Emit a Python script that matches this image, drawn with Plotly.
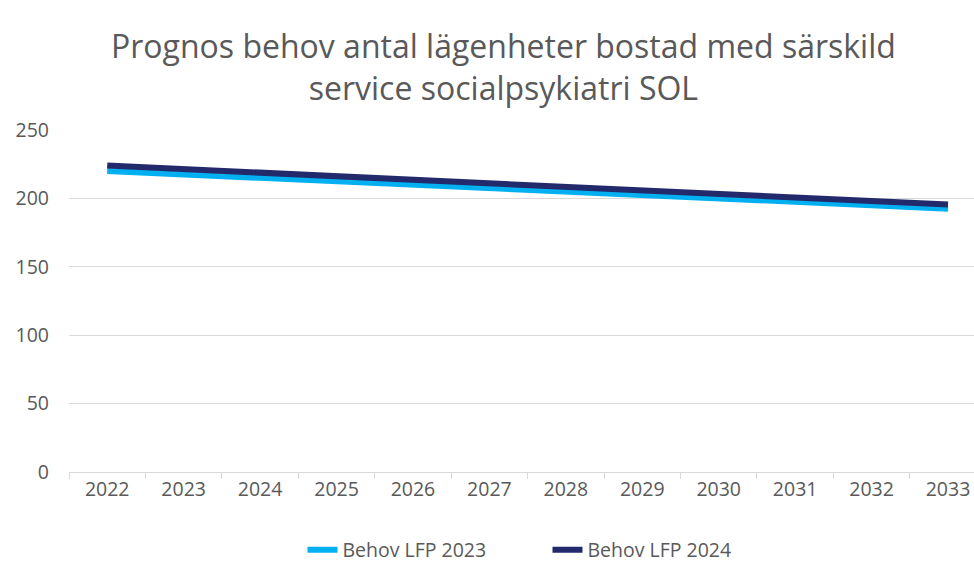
import plotly.graph_objects as go

years = ["2022", "2023", "2024", "2025", "2026", "2027", "2028", "2029", "2030", "2031", "2032", "2033"]
behov_2023 = [220, 217.5, 215, 212, 210, 207.5, 205, 203, 200.5, 197.5, 194.5, 192.5]
behov_2024 = [224, 221.5, 219, 216.5, 213.5, 211, 208, 205.5, 203, 200.5, 198, 195.5]
y_ticks = [0, 50, 100, 150, 200, 250]

FONT = "Open Sans"
TXT = "#595959"

fig = go.Figure()
fig.add_trace(go.Scatter(x=years, y=behov_2023, mode="lines", name="Behov LFP 2023",
                         line=dict(color="#00B0F0", width=6)))
fig.add_trace(go.Scatter(x=years, y=behov_2024, mode="lines", name="Behov LFP 2024",
                         line=dict(color="#222A6B", width=6)))

W, H = 974, 562

fig.update_layout(
    width=W, height=H,
    paper_bgcolor="white", plot_bgcolor="white",
    margin=dict(l=69, r=0, t=130, b=90, autoexpand=False),
    font=dict(family=FONT, color=TXT, size=19.5),
    title=dict(text="Prognos behov antal lägenheter bostad med särskild<br>service socialpsykiatri SOL",
               x=0.48, xref="paper", xanchor="center",
               y=1 - 58 / H, yref="container", yanchor="middle",
               font=dict(family=FONT, size=32, color=TXT)),
    showlegend=True,
    legend=dict(orientation="h", x=0.258, xanchor="left", y=-0.228, yanchor="middle",
                font=dict(size=19.5, color=TXT), traceorder="normal",
                entrywidth=200, entrywidthmode="pixels"),
    xaxis=dict(type="category", range=[-0.5, 11.34], showgrid=False, automargin=False,
               showline=True, linecolor="#d9d9d9", linewidth=1,
               ticks="outside", tickson="boundaries", ticklen=6, tickcolor="#d9d9d9",
               tickfont=dict(size=19.5, color=TXT), fixedrange=True),
    yaxis=dict(range=[0, 250], tickvals=y_ticks, showgrid=True, gridcolor="#d9d9d9",
               gridwidth=1, zeroline=False, showline=False, ticks="", automargin=False,
               ticklabelstandoff=19, tickfont=dict(size=19.5, color=TXT), fixedrange=True),
)

fig.write_html("out.html", config={"displayModeBar": False},
               post_script="document.body.style.margin='0';document.documentElement.style.overflow='hidden';")
